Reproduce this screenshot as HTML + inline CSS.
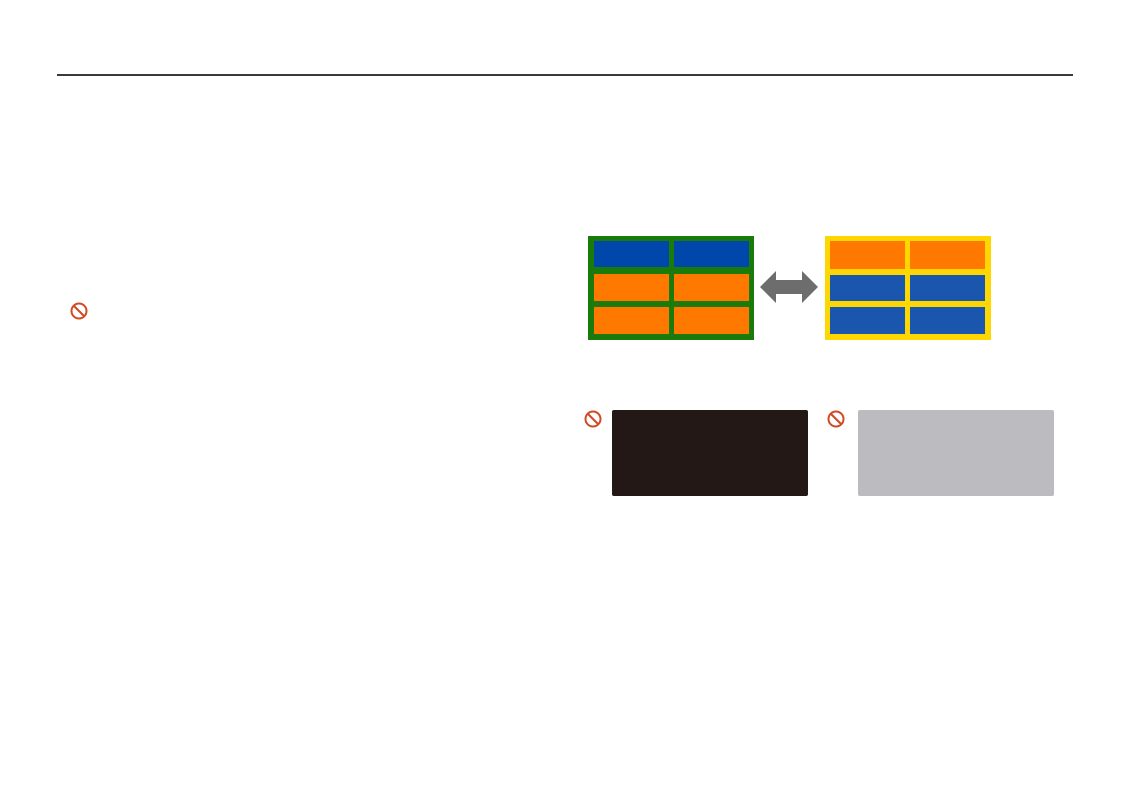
<!DOCTYPE html>
<html><head><style>
body{margin:0;width:1131px;height:800px;background:#fff;position:relative;overflow:hidden}
div{position:absolute}
.b{background:#0047ab}.o{background:#ff7800}.l{background:#1a56ad}
</style></head><body>
<div style="left:57px;top:74px;width:1016px;height:2px;background:#3a3a3a"></div>
<svg style="position:absolute;left:0;top:0" width="1131" height="800">
<g fill="none" stroke="#d04a25" stroke-width="2">
<circle cx="79" cy="311" r="7.5"/><line x1="74" y1="306" x2="84" y2="316"/>
<circle cx="593" cy="419" r="7.5"/><line x1="588" y1="414" x2="598" y2="424"/>
<circle cx="836" cy="419" r="7.5"/><line x1="831" y1="414" x2="841" y2="424"/>
</g>
<polygon points="760,287 776,271 776,280 802,280 802,271 818,287 802,303 802,294 776,294 776,303" fill="#6d6d6d"/>
</svg>
<div style="left:588px;top:236px;width:166px;height:104px;background:#1a7a0a"></div>
<div class="b" style="left:594px;top:241px;width:75px;height:26px"></div>
<div class="b" style="left:674px;top:241px;width:75px;height:26px"></div>
<div class="o" style="left:594px;top:274px;width:75px;height:27px"></div>
<div class="o" style="left:674px;top:274px;width:75px;height:27px"></div>
<div class="o" style="left:594px;top:307px;width:75px;height:27px"></div>
<div class="o" style="left:674px;top:307px;width:75px;height:27px"></div>
<div style="left:825px;top:236px;width:166px;height:104px;background:#ffd700"></div>
<div class="o" style="left:830px;top:241px;width:75px;height:28px"></div>
<div class="o" style="left:910px;top:241px;width:75px;height:28px"></div>
<div class="l" style="left:830px;top:275px;width:75px;height:26px"></div>
<div class="l" style="left:910px;top:275px;width:75px;height:26px"></div>
<div class="l" style="left:830px;top:307px;width:75px;height:27px"></div>
<div class="l" style="left:910px;top:307px;width:75px;height:27px"></div>
<div style="left:612px;top:410px;width:196px;height:86px;background:#231815;border-radius:2px"></div>
<div style="left:858px;top:410px;width:196px;height:86px;background:#bcbcc0;border-radius:2px"></div>
</body></html>
